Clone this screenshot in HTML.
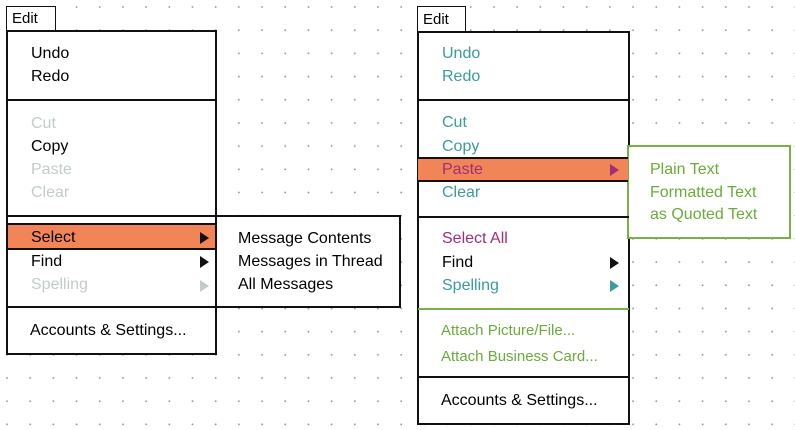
<!DOCTYPE html>
<html><head><style>
*{margin:0;padding:0;box-sizing:border-box}
body{width:795px;height:430px;overflow:hidden;position:relative;background:#fff;
background-image:radial-gradient(circle,#9a9a9a 0.9px,transparent 1.1px);background-size:23.2px 23.2px;background-position:-4.6px -4.6px;
font-family:"Liberation Sans",sans-serif;font-size:16px}
.a{position:absolute}
.box{position:absolute;background:#fff;border:2px solid #111}
.t{position:absolute;line-height:20px;white-space:nowrap;transform:translateY(-10px)}
.hl{position:absolute;background:#f28557;border-top:2px solid #111;border-bottom:2px solid #111}
.sep{position:absolute;height:2px;background:#111}
.tri{position:absolute;width:0;height:0;border-top:6px solid transparent;border-bottom:6px solid transparent;border-left:9px solid #111}
.g{color:#c3cbcb}.tl{color:#3a9c9c}.m{color:#a02e78}.gr{color:#6aab3a}
</style></head><body>
<!-- left -->
<div class="box" style="left:6px;top:6px;width:50px;height:26px;border-width:1.5px"></div>
<div class="t" style="left:12px;top:19px;font-size:15px">Edit</div>
<div class="box" style="left:6px;top:30px;width:211px;height:325px"></div>
<div class="box" style="left:215px;top:215px;width:186px;height:93px"></div>
<div class="sep" style="left:7px;top:99px;width:209px"></div>
<div class="sep" style="left:7px;top:215px;width:209px"></div>
<div class="hl" style="left:8px;top:223px;width:207px;height:27px"></div>
<div class="sep" style="left:7px;top:306px;width:209px"></div>
<div class="t" style="left:31px;top:54px">Undo</div>
<div class="t" style="left:31px;top:77px">Redo</div>
<div class="t g" style="left:31px;top:124px">Cut</div>
<div class="t" style="left:31px;top:147px">Copy</div>
<div class="t g" style="left:31px;top:170px">Paste</div>
<div class="t g" style="left:31px;top:193px">Clear</div>
<div class="t" style="left:31px;top:238px">Select</div>
<div class="t" style="left:31px;top:262px">Find</div>
<div class="t g" style="left:31px;top:285px">Spelling</div>
<div class="t" style="left:30px;top:331px">Accounts &amp; Settings...</div>
<div class="tri" style="left:200px;top:232px"></div>
<div class="tri" style="left:200px;top:256px"></div>
<div class="tri" style="left:200px;top:280px;border-left-color:#c3cbcb"></div>
<div class="t" style="left:238px;top:239px">Message Contents</div>
<div class="t" style="left:238px;top:262px">Messages in Thread</div>
<div class="t" style="left:238px;top:285px">All Messages</div>
<!-- right -->
<div class="box" style="left:417px;top:6px;width:49px;height:26px;border-width:1.5px"></div>
<div class="t" style="left:423px;top:20px;font-size:15px">Edit</div>
<div class="box" style="left:417px;top:31px;width:213px;height:394px"></div>
<div class="box" style="left:627px;top:145px;width:164px;height:94px;border-color:#7ab04a"></div>
<div class="sep" style="left:418px;top:99px;width:211px"></div>
<div class="hl" style="left:418px;top:157px;width:210px;height:25px"></div>
<div class="sep" style="left:418px;top:216px;width:211px"></div>
<div class="sep" style="left:418px;top:308px;width:211px;background:#7ab04a"></div>
<div class="sep" style="left:418px;top:376px;width:211px"></div>
<div class="t tl" style="left:442px;top:54px">Undo</div>
<div class="t tl" style="left:442px;top:77px">Redo</div>
<div class="t tl" style="left:442px;top:123px">Cut</div>
<div class="t tl" style="left:442px;top:147px">Copy</div>
<div class="t m" style="left:442px;top:170px">Paste</div>
<div class="t tl" style="left:442px;top:193px">Clear</div>
<div class="t m" style="left:442px;top:239px">Select All</div>
<div class="t" style="left:442px;top:263px">Find</div>
<div class="t tl" style="left:442px;top:286px">Spelling</div>
<div class="t gr" style="left:441px;top:331px;font-size:15px">Attach Picture/File...</div>
<div class="t gr" style="left:441px;top:357px;font-size:15px">Attach Business Card...</div>
<div class="t" style="left:441px;top:401px">Accounts &amp; Settings...</div>
<div class="tri" style="left:610px;top:164px;border-left-color:#a02e78"></div>
<div class="tri" style="left:610px;top:257px"></div>
<div class="tri" style="left:610px;top:280px;border-left-color:#3a9c9c"></div>
<div class="t gr" style="left:650px;top:170px">Plain Text</div>
<div class="t gr" style="left:650px;top:193px">Formatted Text</div>
<div class="t gr" style="left:650px;top:215px">as Quoted Text</div>
</body></html>
